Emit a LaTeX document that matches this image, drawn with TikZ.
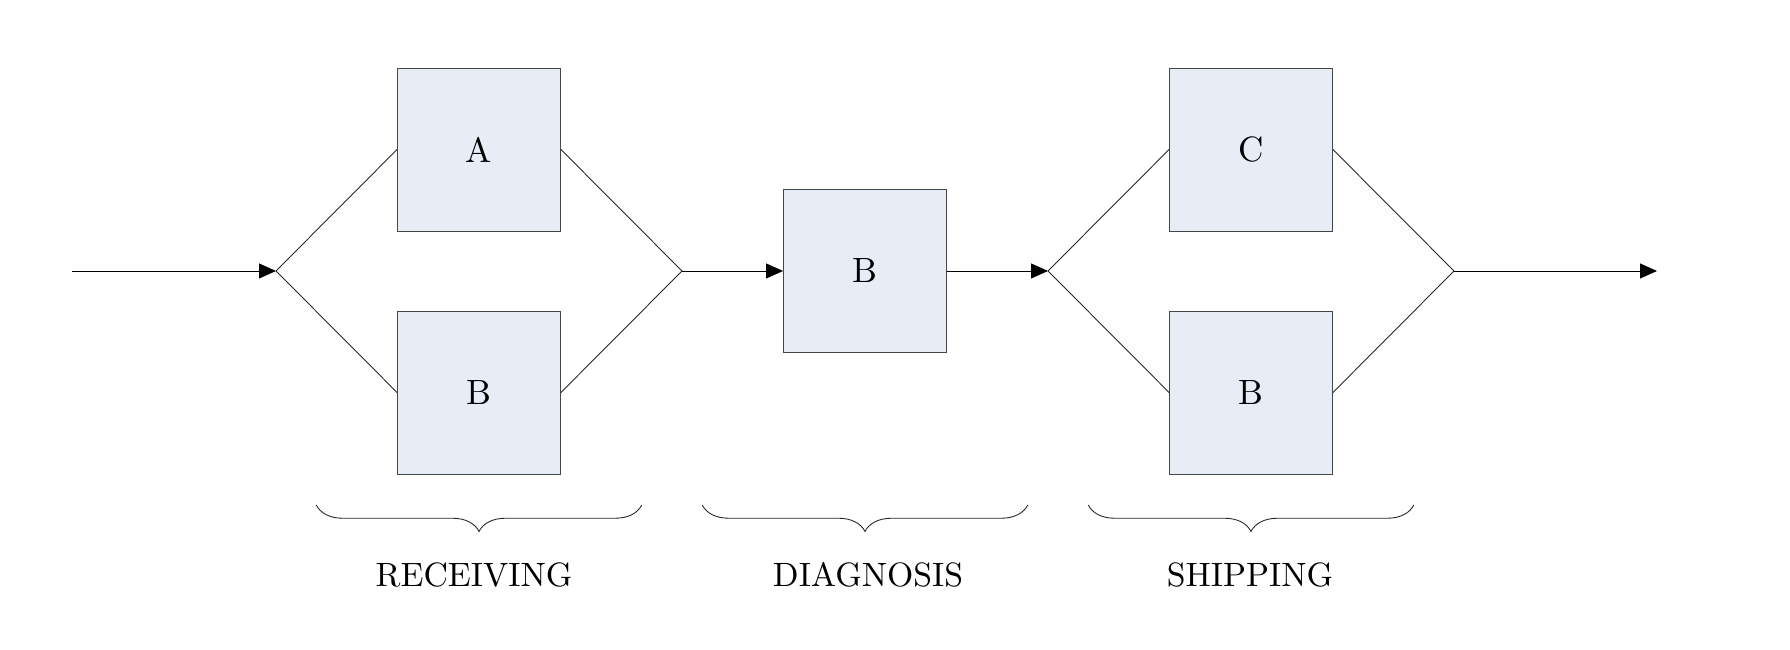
\documentclass[tikz,border=0pt]{standalone}
\usepackage{fontspec}
\setmainfont{lmroman10-regular.otf}
\usepackage{tikz}
\usetikzlibrary{positioning, calc, arrows.meta, decorations.pathreplacing}
\definecolor{boxfill}{RGB}{232,236,245}
\definecolor{boxline}{RGB}{70,70,70}

\begin{document}
\begin{tikzpicture}[
            stage/.style={rectangle, draw=boxline, fill=boxfill, minimum width=3.26cm, minimum height=3.26cm, inner sep=0pt, line width=0.5pt, font=\fontsize{20}{24}\selectfont},
            flow/.style={-{Triangle[length=0.34cm, width=0.3cm]}, line width=0.5pt, black},
            branch/.style={line width=0.5pt, black!85},
            phase/.style={decorate, decoration={brace, mirror, amplitude=0.53cm}, line width=0.5pt, black!85},
            phaselabel/.style={font=\fontsize{19.2}{23}\selectfont}
        ]
            \useasboundingbox (0,0) rectangle (35.8,13);

            % --- ノード配置 ---
            \coordinate (in) at (1.44,7.58);
            \coordinate (j1) at (5.52,7.58);
            \node[stage] (recA) at (9.58,10.01) {A};
            \node[stage] (recB) at (9.58,5.15) {B};
            \coordinate (j2) at (13.64,7.58);
            \node[stage] (diagB) at (17.3,7.58) {B};
            \coordinate (j3) at (20.96,7.58);
            \node[stage] (shipC) at (25.02,10.01) {C};
            \node[stage] (shipB) at (25.02,5.15) {B};
            \coordinate (j4) at (29.08,7.58);
            \coordinate (out) at (33.14,7.58);

            % --- リンク描画 ---
            \draw[flow] (in) -- (j1);
            \draw[branch] (j1) -- (recA.west);
            \draw[branch] (j1) -- (recB.west);
            \draw[branch] (recA.east) -- (j2);
            \draw[branch] (recB.east) -- (j2);
            \draw[flow] (j2) -- (diagB.west);
            \draw[flow] (diagB.east) -- (j3);
            \draw[branch] (j3) -- (shipC.west);
            \draw[branch] (j3) -- (shipB.west);
            \draw[branch] (shipC.east) -- (j4);
            \draw[branch] (shipB.east) -- (j4);
            \draw[flow] (j4) -- (out);

            % --- 工程ラベル ---
            \foreach \x/\tx/\name/\lab in {9.58/9.48/rec/RECEIVING, 17.3/17.36/diag/DIAGNOSIS, 25.02/25.0/ship/SHIPPING} {
              \coordinate (\name L) at (\x-3.255,2.9);
              \coordinate (\name R) at (\x+3.255,2.9);
              \draw[phase] (\name L) -- (\name R);
              \node[phaselabel] (\name txt) at (\tx,1.5) {\lab};
            }

        \end{tikzpicture}
\end{document}
